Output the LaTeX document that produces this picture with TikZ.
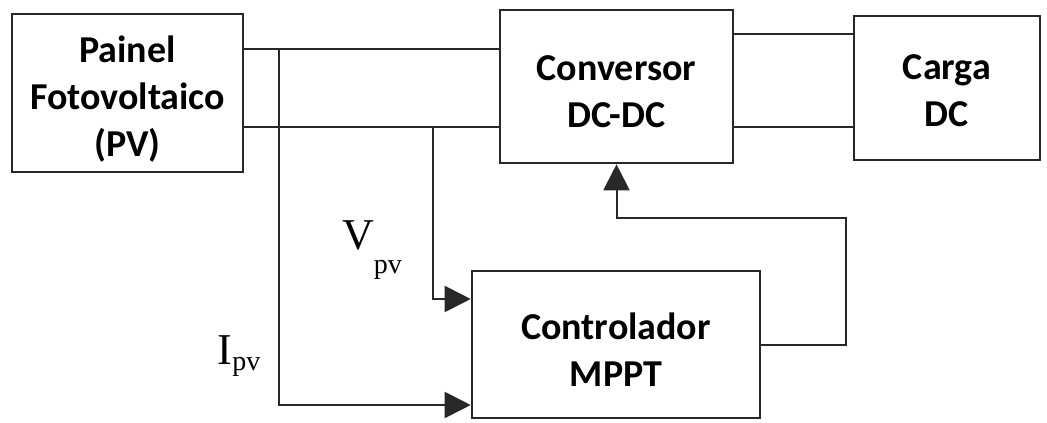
\documentclass[tikz,border=0pt]{standalone}
\usepackage{fontspec}
\setsansfont{Carlito}
\newfontfamily\timesfont{Liberation Serif}
\usepackage{tikz}
\usetikzlibrary{arrows.meta, positioning, calc}
\definecolor{linegray}{RGB}{40, 40, 40}

\begin{document}
\begin{tikzpicture}[x=1pt, y=-1pt,
  blk/.style={draw=linegray, line width=2.6pt, fill=white},
  txt/.style={align=center, inner sep=0pt, font=\sffamily\bfseries\fontsize{38}{47}\selectfont},
  wire/.style={draw=linegray, line width=2pt},
  sig/.style={wire, -{Triangle[length=26pt, width=26pt]}},
  lbl/.style={font=\timesfont\fontsize{44}{44}\selectfont, inner sep=0pt},
]
  \useasboundingbox (0,0) rectangle (1047,423);

  % Blocks
  \node[blk, minimum width=231pt, minimum height=158pt] (pv) at (127.5,93) {};
  \node[blk, minimum width=233pt, minimum height=153pt] (conv) at (616.5,86.5) {};
  \node[blk, minimum width=186pt, minimum height=144pt] (carga) at (947,88) {};
  \node[blk, minimum width=288pt, minimum height=147pt] (mppt) at (616,344.5) {};

  % Block texts
  \node[txt] (pvtxt) at ([yshift=-6pt]pv.center) {Painel\\Fotovoltaico\\(PV)};
  \node[txt] (convtxt) at ([yshift=-5pt]conv.center) {Conversor\\DC-DC};
  \node[txt] (cargatxt) at ([yshift=-3pt]carga.center) {Carga\\DC};
  \node[txt] (mppttxt) at ([yshift=-5pt]mppt.center) {Controlador\\MPPT};

  % Power lines
  \coordinate (pvtop) at ([yshift=44pt]pv.east);
  \coordinate (pvbot) at ([yshift=-34pt]pv.east);
  \coordinate (cvtop) at ([yshift=52.5pt]conv.east);
  \coordinate (cvbot) at ([yshift=-40.5pt]conv.east);
  \draw[wire] (pvtop) -- (pvtop -| conv.west);
  \draw[wire] (pvbot) -- (pvbot -| conv.west);
  \draw[wire] (cvtop) -- (cvtop -| carga.west);
  \draw[wire] (cvbot) -- (cvbot -| carga.west);

  % Measurements
  \coordinate (itap) at (279,49);
  \coordinate (vtap) at (433,127);
  \coordinate (iin) at ([yshift=-60.5pt]mppt.west);
  \coordinate (vin) at ([yshift=45.5pt]mppt.west);
  \draw[sig] (itap) |- (iin);
  \draw[sig] (vtap) |- (vin);

  % Feedback
  \coordinate (fbr) at (846,218);
  \draw[sig] (mppt.east) -| (fbr) -| (conv.south);

  % Labels
  \node[lbl] (vlbl) at (372,250) {V\raisebox{-0.55em}{\fontsize{28}{28}\selectfont pv}};
  \node[lbl] (ilbl) at (239,356) {I\raisebox{-0.12em}{\fontsize{28}{28}\selectfont pv}};
\end{tikzpicture}
\end{document}
